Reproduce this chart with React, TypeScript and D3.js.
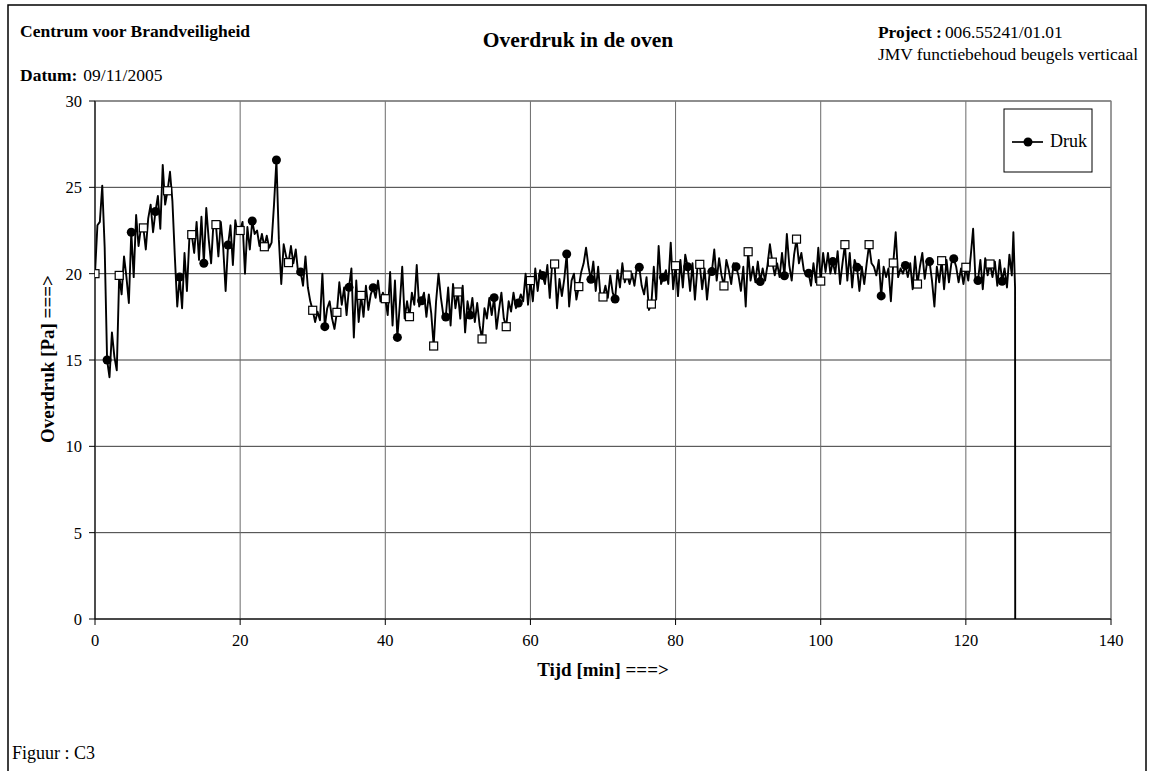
import React from 'react';
import * as d3 from 'd3';

// Sampling: one reading every 20 s (1/3 min); markers on every 5th reading
const sampleStepMin = 1 / 3;
const markerEvery = 5;

// Overdruk [Pa] readings, grouped per marker interval (5 readings each)
const drukGroups: number[][] = [
  [20.0, 22.8, 23.0, 25.1, 21.5],
  [15.0, 14.0, 16.6, 15.2, 14.4],
  [19.9, 18.8, 21.0, 19.8, 18.3],
  [22.4, 19.8, 23.4, 21.6, 22.7],
  [22.65, 21.4, 23.2, 24.0, 22.4],
  [23.6, 24.5, 22.6, 26.3, 24.0],
  [24.8, 25.9, 24.2, 21.0, 18.1],
  [19.8, 18.0, 21.2, 19.0, 22.0],
  [22.26, 21.2, 23.0, 20.8, 23.3],
  [20.6, 23.8, 22.0, 20.6, 23.0],
  [22.84, 21.0, 23.0, 21.5, 19.0],
  [21.66, 22.8, 20.5, 23.1, 22.3],
  [22.5, 23.0, 20.0, 22.7, 21.4],
  [23.05, 22.3, 22.5, 21.6, 22.3],
  [21.56, 22.2, 21.5, 21.8, 24.0],
  [26.58, 22.0, 19.4, 21.7, 21.0],
  [20.64, 21.6, 20.6, 21.4, 20.0],
  [20.1, 19.3, 21.0, 19.2, 18.4],
  [17.88, 17.2, 17.8, 17.3, 20.0],
  [16.93, 18.0, 18.4, 17.4, 16.8],
  [17.76, 19.5, 18.2, 19.2, 17.6],
  [19.21, 20.3, 16.3, 19.6, 17.2],
  [18.74, 17.5, 19.3, 17.9, 18.8],
  [19.19, 18.6, 19.6, 18.4, 18.9],
  [18.55, 17.6, 20.1, 17.0, 19.6],
  [16.31, 18.2, 20.4, 17.4, 18.4],
  [17.51, 18.9, 18.2, 20.5, 18.1],
  [18.43, 18.9, 17.5, 18.8, 17.7],
  [15.81, 18.4, 20.0, 18.6, 17.6],
  [17.49, 19.2, 17.0, 19.4, 18.0],
  [18.94, 17.4, 19.3, 16.6, 18.4],
  [17.6, 18.6, 17.2, 18.3, 17.0],
  [16.22, 18.0, 17.4, 18.6, 17.6],
  [18.61, 16.8, 17.9, 18.9, 17.4],
  [16.93, 18.4, 17.8, 18.9, 18.0],
  [18.3, 18.8, 18.4, 20.0, 18.2],
  [19.6, 18.4, 20.3, 19.0, 20.2],
  [19.9, 19.4, 20.5, 18.6, 20.6],
  [20.56, 18.0, 19.7, 18.7, 19.7],
  [21.14, 18.1, 19.6, 20.0, 18.5],
  [19.25, 20.1, 20.6, 21.5, 20.4],
  [19.67, 20.7, 19.0, 20.4, 18.6],
  [18.65, 19.3, 18.6, 19.9, 18.9],
  [18.53, 20.2, 19.2, 20.6, 19.5],
  [19.92, 19.4, 20.0, 19.3, 20.4],
  [20.37, 19.3, 18.8, 19.8, 17.9],
  [18.24, 20.4, 18.5, 21.6, 19.4],
  [19.79, 20.2, 19.4, 21.8, 19.1],
  [20.46, 18.7, 20.8, 19.2, 21.1],
  [20.4, 19.0, 20.6, 18.5, 20.3],
  [20.54, 19.1, 20.3, 18.5, 19.9],
  [20.12, 21.4, 19.6, 20.9, 19.9],
  [19.29, 20.8, 20.2, 19.4, 20.6],
  [20.4, 19.9, 19.0, 20.4, 18.1],
  [21.27, 19.6, 20.4, 19.5, 20.7],
  [19.54, 20.3, 19.6, 20.5, 21.7],
  [20.67, 19.9, 20.6, 19.8, 21.2],
  [19.88, 22.3, 20.5, 19.6, 21.1],
  [22.0, 20.6, 21.2, 20.2, 19.9],
  [20.02, 19.3, 20.6, 19.5, 21.5],
  [19.57, 21.2, 20.1, 21.2, 20.0],
  [20.7, 20.0, 21.3, 19.4, 20.6],
  [21.68, 19.6, 21.2, 19.2, 20.8],
  [20.37, 19.0, 20.4, 19.4, 20.6],
  [21.68, 20.6, 20.4, 19.9, 20.8],
  [18.71, 20.4, 19.8, 20.3, 18.4],
  [20.62, 22.4, 19.8, 20.3, 20.0],
  [20.48, 19.8, 20.6, 19.1, 21.0],
  [19.4, 20.4, 21.2, 19.7, 20.7],
  [20.7, 19.6, 18.1, 20.4, 19.5],
  [20.75, 19.1, 20.8, 19.5, 20.6],
  [20.87, 20.4, 19.5, 20.3, 19.4],
  [20.37, 19.6, 21.0, 22.6, 19.6],
  [19.6, 20.8, 19.1, 20.9, 19.9],
  [20.56, 19.8, 20.7, 19.3, 20.8],
  [19.56, 20.3, 19.2, 21.1, 19.9],
];

// Last readings at the end of the test (oven pressure drops to 0)
const tailTimes = [126.55, 126.78, 126.8];
const tailValues = [22.4, 19.2, 0];

const xTicks = [0, 20, 40, 60, 80, 100, 120, 140];
const yTicks = [0, 5, 10, 15, 20, 25, 30];

const titleText = 'Overdruk in de oven';
const orgText = 'Centrum voor Brandveiligheid';
const dateLabel = 'Datum:';
const dateValue = '09/11/2005';
const projectLabel = 'Project :';
const projectValue = '006.55241/01.01';
const projectDesc = 'JMV functiebehoud beugels verticaal';
const xAxisLabel = 'Tijd [min] ===>';
const yAxisLabel = 'Overdruk [Pa] ===>';
const legendLabel = 'Druk';
const figureLabel = 'Figuur : C3';

type Pt = { t: number; v: number; i: number };

export default function App() {
  const W = 1151;
  const H = 771;
  const left = 95, right = 1111, top = 101, bottom = 619;
  const x = d3.scaleLinear().domain([0, 140]).range([left, right]);
  const y = d3.scaleLinear().domain([0, 30]).range([bottom, top]);

  const flat = drukGroups.flat();
  const pts: Pt[] = flat.map((v, i) => ({ t: i * sampleStepMin, v, i }));
  const tail: Pt[] = tailTimes.map((t, k) => ({ t, v: tailValues[k], i: -1 }));
  const all = pts.concat(tail);

  const line = d3.line<Pt>().x(d => x(d.t)).y(d => y(d.v));
  const markers = pts.filter(p => p.i % markerEvery === 0);

  const serif = '"Liberation Serif", "Times New Roman", serif';

  return (
    <svg width={W} height={H} style={{ position: 'absolute', left: 0, top: 0, display: 'block', background: '#fff' }}
      fontFamily={serif}>
      <defs>
        <clipPath id="plotclip">
          <rect x={left} y={top - 2} width={right - left} height={bottom - top + 2} />
        </clipPath>
      </defs>
      {/* outer frame */}
      <rect x={8} y={5} width={1138} height={780} fill="none" stroke="#000" strokeWidth={1.5} />

      {/* header */}
      <text x={20} y={37} fontSize={17.5} fontWeight="bold">{orgText}</text>
      <text x={20} y={81} fontSize={17.5}><tspan fontWeight="bold">{dateLabel}</tspan><tspan dx={6}>{dateValue}</tspan></text>
      <text x={578} y={47} fontSize={21.5} fontWeight="bold" textAnchor="middle">{titleText}</text>
      <text x={878} y={38} fontSize={17.4}><tspan fontWeight="bold">{projectLabel}</tspan><tspan dx={3}>{projectValue}</tspan></text>
      <text x={878} y={60} fontSize={17.4}>{projectDesc}</text>

      {/* grid */}
      {yTicks.map(t => (
        <line key={'gy' + t} x1={left} x2={right} y1={y(t)} y2={y(t)} stroke="#3a3a3a" strokeWidth={1} />
      ))}
      {xTicks.map(t => (
        <line key={'gx' + t} x1={x(t)} x2={x(t)} y1={top} y2={bottom} stroke="#6a6a6a" strokeWidth={1} />
      ))}
      {/* plot area border */}
      <rect x={left} y={top} width={right - left} height={bottom - top} fill="none" stroke="#808080" strokeWidth={1} />

      {/* axes */}
      <line x1={left} x2={left} y1={top} y2={bottom} stroke="#000" strokeWidth={1} />
      <line x1={left} x2={right} y1={bottom} y2={bottom} stroke="#000" strokeWidth={1} />
      {yTicks.map(t => (
        <g key={'ty' + t}>
          <line x1={left - 6} x2={left} y1={y(t)} y2={y(t)} stroke="#000" />
          <text x={left - 13} y={y(t) + 6} fontSize={16.5} textAnchor="end">{t}</text>
        </g>
      ))}
      {xTicks.map(t => (
        <g key={'tx' + t}>
          <line x1={x(t)} x2={x(t)} y1={bottom} y2={bottom + 6} stroke="#000" />
          <text x={x(t)} y={bottom + 27} fontSize={16.5} textAnchor="middle">{t}</text>
        </g>
      ))}

      {/* axis titles */}
      <text x={603} y={676} fontSize={19} fontWeight="bold" textAnchor="middle">{xAxisLabel}</text>
      <text transform={`translate(54,359) rotate(-90)`} fontSize={19} fontWeight="bold" textAnchor="middle">{yAxisLabel}</text>

      {/* series */}
      <g clipPath="url(#plotclip)">
        <path d={line(all) || ''} fill="none" stroke="#000" strokeWidth={1.9} strokeLinejoin="round" />
        {markers.map(p => {
          const cx = x(p.t), cy = y(p.v);
          const isSquare = (p.i / markerEvery) % 2 === 0;
          return isSquare ? (
            <rect key={'m' + p.i} x={cx - 4} y={cy - 4} width={8} height={8} fill="#fff" stroke="#000" strokeWidth={1.2} />
          ) : (
            <circle key={'m' + p.i} cx={cx} cy={cy} r={4.5} fill="#000" />
          );
        })}
      </g>

      {/* legend */}
      <rect x={1004} y={109} width={88} height={63} fill="#fff" stroke="#000" strokeWidth={1} />
      <line x1={1012} x2={1043} y1={142} y2={142} stroke="#000" strokeWidth={1.7} />
      <circle cx={1028} cy={142} r={4.5} fill="#000" />
      <text x={1050} y={147} fontSize={18}>{legendLabel}</text>

      {/* footer */}
      <text x={12} y={759} fontSize={18}>{figureLabel}</text>
    </svg>
  );
}
